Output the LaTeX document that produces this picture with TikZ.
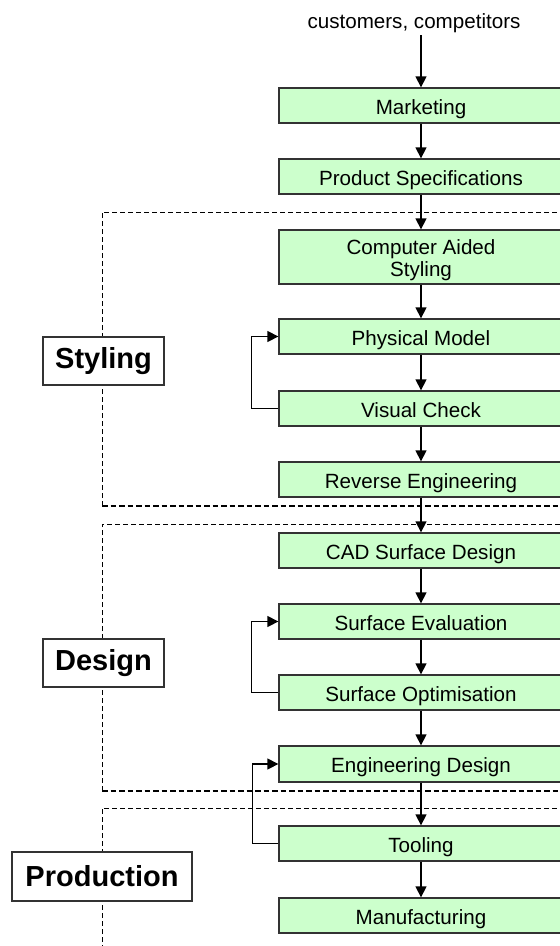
\documentclass[tikz,border=0pt]{standalone}
\usepackage{fontspec}
\setmainfont{Liberation Sans}
\usetikzlibrary{arrows.meta}
\definecolor{stepfill}{HTML}{CCFFCC}
\definecolor{edge}{HTML}{333333}
\begin{document}
\begin{tikzpicture}[x=1pt,y=-1pt,
  stepbox/.style={draw=edge, line width=1.3pt, fill=stepfill, minimum width=284pt,
    minimum height=35pt, inner sep=0pt, align=center,
    text height=17pt, text depth=0pt,
    font=\fontsize{20.6}{22}\selectfont},
  phase/.style={draw=edge, line width=1.3pt, fill=white, minimum height=48pt,
    inner sep=0pt, font=\fontsize{29}{32}\selectfont\bfseries},
  flow/.style={line width=1.3pt, -{Triangle[width=11pt,length=11pt]}},
  loopline/.style={line width=1.3pt, -{Triangle[width=11pt,length=11pt]}},
  frametop/.style={line width=1pt, dash pattern=on 5pt off 3pt},
  framebot/.style={line width=2pt, dash pattern=on 5.5pt off 3pt},
]
\useasboundingbox (0,0) rectangle (560,946);
\clip (0,0) rectangle (560,946);
\fill[white] (0,0) rectangle (560,946);

% phase frames
\draw[frametop] (102,506) -- (102,212) -- (570,212);
\draw[framebot] (102,506) -- (570,506);
\draw[frametop] (102,791) -- (102,524) -- (570,524);
\draw[framebot] (102,791) -- (570,791);
\draw[frametop] (102,950) -- (102,808) -- (570,808);

% phase labels
\node[phase, minimum width=121pt] (lstyling) at (103.5,361) {Styling};
\node[phase, minimum width=121pt] (ldesign) at (103.5,663) {Design};
\node[phase, minimum width=180pt, minimum height=49pt] (lprod) at (102,876.5) {Production};

% input
\node[font=\fontsize{20.6}{22}\selectfont, inner sep=0pt] (src) at (414,23) {customers, competitors};
\coordinate (srcend) at (421,35);

% process steps
\node[stepbox] (mkt) at (421,105.5) {Marketing};
\node[stepbox] (spec) at (421,176.5) {Product Specifications};
\node[stepbox, minimum height=54pt, text height=38pt, text depth=0pt] (cas) at (421,257) {Computer Aided\\Styling};
\node[stepbox] (phys) at (421,336.5) {Physical Model};
\node[stepbox] (vis) at (421,408.5) {Visual Check};
\node[stepbox] (rev) at (421,479.5) {Reverse Engineering};
\node[stepbox] (cad) at (421,550.5) {CAD Surface Design};
\node[stepbox] (seval) at (421,621.5) {Surface Evaluation};
\node[stepbox] (sopt) at (421,692.5) {Surface Optimisation};
\node[stepbox, minimum height=36pt] (eng) at (421,764) {Engineering Design};
\node[stepbox] (tool) at (421,843.5) {Tooling};
\node[stepbox] (manu) at (421,915.5) {Manufacturing};

% main flow
\draw[flow] (srcend) -- (mkt.north);
\draw[flow] (mkt) -- (spec);
\draw[flow] (spec) -- (cas);
\draw[flow] (cas) -- (phys);
\draw[flow] (phys) -- (vis);
\draw[flow] (vis) -- (rev);
\draw[flow] (rev) -- (cad);
\draw[flow] (cad) -- (seval);
\draw[flow] (seval) -- (sopt);
\draw[flow] (sopt) -- (eng);
\draw[flow] (eng) -- (tool);
\draw[flow] (tool) -- (manu);

% feedback loops
\draw[loopline] (vis.west) -- ++(-27,0) |- (phys.west);
\draw[loopline] (sopt.west) -- ++(-27,0) |- (seval.west);
\draw[loopline] (tool.west) -- ++(-26,0) |- (eng.west);
\end{tikzpicture}
\end{document}
